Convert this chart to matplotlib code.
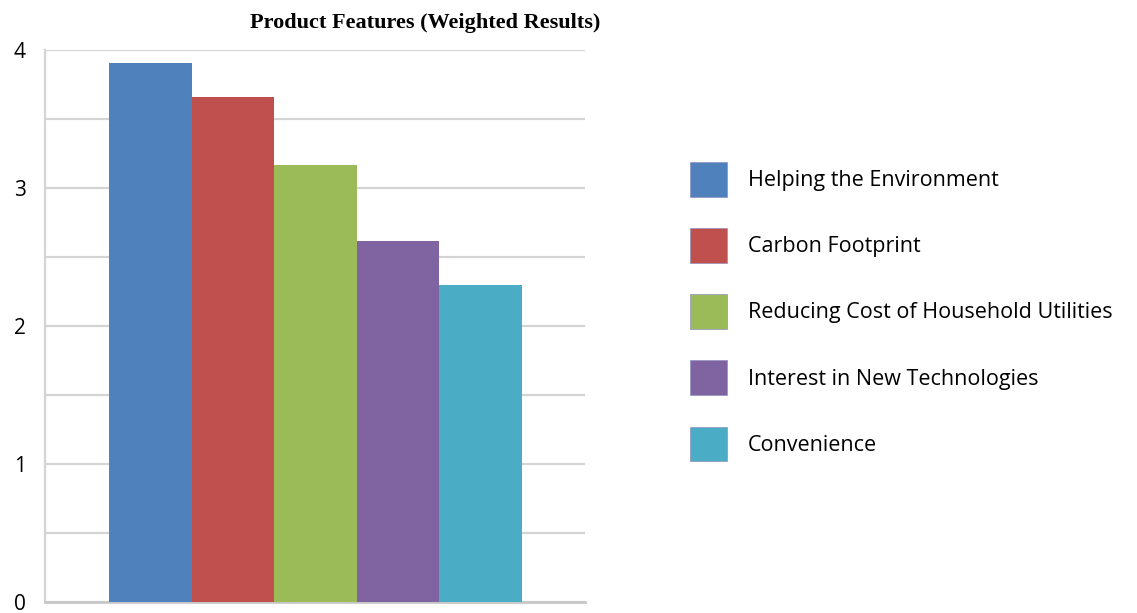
import matplotlib.pyplot as plt
from matplotlib.patches import Patch

# data
kategorier = ["Helping the Environment", "Carbon Footprint",
              "Reducing Cost of Household Utilities",
              "Interest in New Technologies", "Convenience"]
verdier = [3.91, 3.66, 3.17, 2.62, 2.30]
farger = ["#4F81BD", "#C0504D", "#9BBB59", "#8064A2", "#4BACC6"]

fig = plt.figure(figsize=(11.37, 6.13), dpi=100)
ax = fig.add_axes([0.0396, 0.018, 0.475, 0.9])

posisjoner = list(range(len(verdier)))
ax.bar(posisjoner, verdier, width=1.0, color=farger, zorder=3)

ax.set_xlim(-1.275, 5.263)
ax.set_ylim(0, 4)
ax.set_yticks([0, 1, 2, 3, 4])
ax.set_yticks([0.5, 1.5, 2.5, 3.5], minor=True)
ax.set_xticks([])
ax.grid(axis="y", which="both", color="#d4d4d4", linewidth=1.6, zorder=0)
ax.tick_params(axis="y", which="both", length=0, labelsize=15, pad=14)
for t in ax.get_yticklabels():
    t.set_family("Open Sans")

for s in ["top", "right"]:
    ax.spines[s].set_visible(False)
ax.spines["left"].set_color("#d4d4d4")
ax.spines["bottom"].set_color("#c8c8c8")
ax.spines["left"].set_linewidth(1.6)
ax.spines["bottom"].set_linewidth(2)

fig.text(0.374, 0.962, "Product Features (Weighted Results)", ha="center", va="center",
         family="Liberation Serif", weight="bold", fontsize=16)

handles = [Patch(facecolor=f, edgecolor="#9090c0", linewidth=0.5) for f in farger]
fig.legend(handles, kategorier, loc="upper left", bbox_to_anchor=(0.597, 0.753),
           frameon=False, borderpad=0, handlelength=1.72, handleheight=2.1,
           labelspacing=1.46, handletextpad=1.0, prop={"family": "Open Sans", "size": 15.5})

fig.savefig("out.png", dpi=100)
